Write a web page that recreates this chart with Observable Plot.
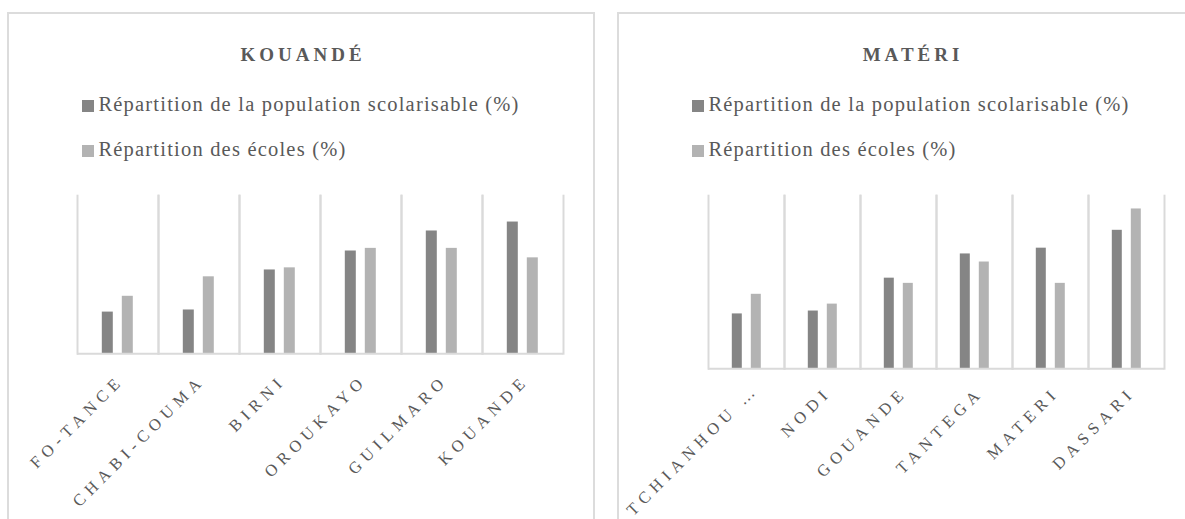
<!DOCTYPE html>
<html><head><meta charset="utf-8">
<script src="https://cdn.jsdelivr.net/npm/d3@7"></script>
<script src="https://cdn.jsdelivr.net/npm/@observablehq/plot@0.6"></script>
<style>
html,body{margin:0;padding:0;background:#fff;width:1185px;height:519px;overflow:hidden;position:relative;font-family:"Liberation Serif",serif;color:#595959;}
.panel{position:absolute;top:12px;width:588px;height:540px;border:2px solid #dcdcdc;box-sizing:border-box;}
.title{position:absolute;top:30px;left:0;right:0;text-align:center;font-weight:bold;font-size:19px;letter-spacing:4px;padding-left:4px;line-height:22px;}
.legend{position:absolute;top:78px;left:0;right:0;text-align:center;}
.legend .inner{display:inline-block;text-align:left;}
.item{height:45px;line-height:24px;font-size:20.5px;letter-spacing:1.2px;white-space:nowrap;}
.sw{display:inline-block;width:12px;height:12px;margin-right:4px;vertical-align:-1px;}
.chart{position:absolute;top:185px;}
.chart text{letter-spacing:5.5px;}
.chart tspan.dots{letter-spacing:1.5px;}
</style>
</head><body>
<div id="root"></div>
<script>
// ---- data ----
const series = ["Répartition de la population scolarisable (%)", "Répartition des écoles (%)"];
const seriesColors = ["#858585", "#b3b3b3"];

const communesKouande = ["FO-TANCE", "CHABI-COUMA", "BIRNI", "OROUKAYO", "GUILMARO", "KOUANDE"];
const populationKouande = [7.9, 8.3, 15.9, 19.5, 23.3, 25.0];
const ecolesKouande = [10.9, 14.6, 16.3, 20.0, 20.0, 18.2];

const communesMateri = ["TCHIANHOU ...", "NODI", "GOUANDE", "TANTEGA", "MATERI", "DASSARI"];
const populationMateri = [9.5, 10.0, 15.7, 19.9, 20.9, 24.0];
const ecolesMateri = [12.9, 11.2, 14.8, 18.5, 14.8, 27.7];

const yDomain = [0, 30];

const panels = [
  {title: "KOUANDÉ", communes: communesKouande, pop: populationKouande, ecoles: ecolesKouande,
   left: 7, svgLeft: 7, marginLeft: 70.2, marginRight: 30.5, marginBottom: 165.8, labelDx: 3, labelPad: 24},
  {title: "MATÉRI", communes: communesMateri, pop: populationMateri, ecoles: ecolesMateri,
   left: 617, svgLeft: 617, marginLeft: 90.2, marginRight: 38.5, marginBottom: 150.8, labelDx: 6, labelPad: 21}
];

const root = document.getElementById("root");
for (const p of panels) {
  const panel = document.createElement("div");
  panel.className = "panel";
  panel.style.left = p.left + "px";
  panel.innerHTML = `<div class="title">${p.title}</div>
    <div class="legend"><div class="inner">${series.map((s, i) =>
      `<div class="item"><span class="sw" style="background:${seriesColors[i]}"></span>${s}</div>`).join("")}</div></div>`;
  root.appendChild(panel);

  const rows = [];
  p.communes.forEach((c, i) => {
    rows.push({commune: c, serie: series[0], value: p.pop[i]});
    rows.push({commune: c, serie: series[1], value: p.ecoles[i]});
  });

  const grid = "#dadada";
  const chart = Plot.plot({
    width: 587,
    height: 334,
    marginTop: 10.2,
    marginLeft: p.marginLeft,
    marginRight: p.marginRight,
    marginBottom: p.marginBottom,
    style: {fontFamily: "'Liberation Serif', serif", background: "transparent", overflow: "visible"},
    fx: {domain: p.communes, padding: 0, label: null},
    x: {domain: series, paddingInner: 0.46, paddingOuter: 1.18, axis: null},
    y: {domain: yDomain, axis: null},
    color: {domain: series, range: seriesColors},
    marks: [
      Plot.frame({anchor: "left", stroke: grid, strokeWidth: 2}),
      Plot.frame({anchor: "right", stroke: grid, strokeWidth: 2}),
      Plot.barY(rows, {fx: "commune", x: "serie", y: "value", fill: "serie"}),
      Plot.ruleY([0], {stroke: grid, strokeWidth: 2}),
      Plot.axisFx({anchor: "bottom", tickRotate: -45, tickSize: 0, tickPadding: p.labelPad, dx: p.labelDx,
                   textAnchor: "end", lineAnchor: "middle",
                   label: null, fontSize: 16.5, fill: "#595959"})
    ]
  });
  // keep the ellipsis of a truncated label compact, as in the source chart
  chart.querySelectorAll("text").forEach(t => {
    const s = t.textContent;
    if (s.endsWith("...")) {
      const head = s.slice(0, -3);
      t.textContent = "";
      const a = document.createElementNS("http://www.w3.org/2000/svg", "tspan");
      a.textContent = head;
      const b = document.createElementNS("http://www.w3.org/2000/svg", "tspan");
      b.setAttribute("class", "dots");
      b.textContent = "...";
      t.appendChild(a); t.appendChild(b);
    }
  });
  chart.classList.add("chart");
  chart.style.left = p.svgLeft + "px";
  chart.style.position = "absolute";
  chart.style.top = "185px";
  root.appendChild(chart);
}
</script>
</body></html>
